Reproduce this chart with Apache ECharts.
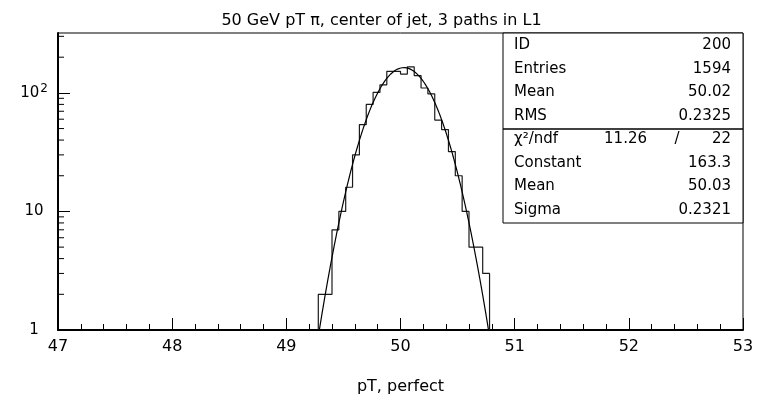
<!DOCTYPE html>
<html>
<head>
<meta charset="utf-8">
<script src="https://cdn.jsdelivr.net/npm/echarts@6/dist/echarts.min.js"></script>
<style>
  html, body { margin: 0; padding: 0; background: #fff; }
  #chart { width: 763px; height: 400px; }
</style>
</head>
<body>
<div id="chart"></div>
<script>
// Histogram bins (width 0.06 GeV), lower edges and counts
const binWidth = 0.06;
const binLowEdges = [49.28, 49.34, 49.40, 49.46, 49.52, 49.58, 49.64, 49.70, 49.76, 49.82,
                     49.88, 49.94, 50.00, 50.06, 50.12, 50.18, 50.24, 50.30, 50.36, 50.42,
                     50.48, 50.54, 50.60, 50.66, 50.72];
const binCounts = [2, 2, 7, 10, 16, 30, 54, 80, 101, 117,
                   152, 152, 144, 166, 140, 110, 98, 59, 49, 32,
                   20, 10, 5, 5, 3];

// Gaussian fit results
const fitConstant = 163.3;
const fitMean = 50.03;
const fitSigma = 0.2321;
const fitChi2 = 11.26;
const fitNdf = 22;
const fitRange = [49.28, 50.78];

// Histogram statistics
const histId = 200;
const histEntries = 1594;
const histMean = 50.02;
const histRms = 0.2325;

// Axis ticks
const xTicks = [47, 48, 49, 50, 51, 52, 53];
const yMinorTicks = [2, 3, 4, 5, 6, 7, 8, 9, 20, 30, 40, 50, 60, 70, 80, 90, 200, 300];

const FONT = 'DejaVu Sans';

// Step outline of the histogram
const stepPoints = [[binLowEdges[0], 1]];
binLowEdges.forEach((lo, i) => {
  stepPoints.push([lo, binCounts[i]]);
  stepPoints.push([+(lo + binWidth).toFixed(4), binCounts[i]]);
});
stepPoints.push([+(binLowEdges[binLowEdges.length - 1] + binWidth).toFixed(4), 1]);

// Fitted gaussian sampled across the fit range
const fitPoints = [];
for (let x = fitRange[0]; x <= fitRange[1] + 1e-9; x += 0.005) {
  const z = (x - fitMean) / fitSigma;
  fitPoints.push([x, fitConstant * Math.exp(-0.5 * z * z)]);
}

const chart = echarts.init(document.getElementById('chart'), null, { renderer: 'canvas' });

const statsLeft = 503, statsRight = 743, statsTop = 33;
const rowY = [45.5, 69, 92.5, 116, 139.5, 163, 186.5, 210];
const statRows = [
  ['ID', String(histId)],
  ['Entries', String(histEntries)],
  ['Mean', histMean.toFixed(2)],
  ['RMS', histRms.toFixed(4)],
  null,
  ['Constant', fitConstant.toFixed(1)],
  ['Mean', fitMean.toFixed(2)],
  ['Sigma', fitSigma.toFixed(4)]
];
const textStyle = { fontFamily: FONT, fontSize: 15, fill: '#000' };
const graphics = [
  { type: 'rect', shape: { x: statsLeft, y: statsTop, width: statsRight - statsLeft, height: 190 },
    style: { fill: '#fff', stroke: '#000', lineWidth: 1 }, z: 100 },
  { type: 'line', shape: { x1: statsLeft, y1: 129, x2: statsRight, y2: 129 },
    style: { stroke: '#000', lineWidth: 1.5 }, z: 101 }
];
statRows.forEach((row, i) => {
  if (!row) return;
  graphics.push({ type: 'text', x: 514, y: rowY[i], z: 102,
    style: Object.assign({ text: row[0], textAlign: 'left', textVerticalAlign: 'middle' }, textStyle) });
  graphics.push({ type: 'text', x: 731, y: rowY[i], z: 102,
    style: Object.assign({ text: row[1], textAlign: 'right', textVerticalAlign: 'middle' }, textStyle) });
});
graphics.push({ type: 'text', x: 514, y: rowY[4], z: 102,
  style: Object.assign({ text: 'χ²/ndf', textAlign: 'left', textVerticalAlign: 'middle' }, textStyle) });
graphics.push({ type: 'text', x: 647, y: rowY[4], z: 102,
  style: Object.assign({ text: fitChi2.toFixed(2), textAlign: 'right', textVerticalAlign: 'middle' }, textStyle) });
graphics.push({ type: 'text', x: 677, y: rowY[4], z: 102,
  style: Object.assign({ text: '/', textAlign: 'center', textVerticalAlign: 'middle' }, textStyle) });
graphics.push({ type: 'text', x: 731, y: rowY[4], z: 102,
  style: Object.assign({ text: String(fitNdf), textAlign: 'right', textVerticalAlign: 'middle' }, textStyle) });

chart.setOption({
  animation: false,
  backgroundColor: '#fff',
  title: {
    text: '50 GeV pT π, center of jet, 3 paths in L1',
    left: 'center',
    top: 8,
    textStyle: { fontFamily: FONT, fontSize: 16, fontWeight: 'normal', color: '#000' }
  },
  grid: {
    left: 58, right: 20, top: 33, bottom: 67,
    show: true, borderColor: '#000', borderWidth: 1, backgroundColor: 'transparent'
  },
  xAxis: {
    type: 'value',
    min: xTicks[0], max: xTicks[xTicks.length - 1], interval: 1,
    name: 'pT, perfect',
    nameLocation: 'middle',
    nameGap: 49,
    nameTextStyle: { fontFamily: FONT, fontSize: 16, color: '#000' },
    axisLine: { show: true, lineStyle: { color: '#000', width: 2 } },
    axisTick: { show: true, inside: true, length: 12, lineStyle: { color: '#000', width: 1 } },
    minorTick: { show: true, splitNumber: 5, length: 6, lineStyle: { color: '#000', width: 1 } },
    axisLabel: { fontFamily: FONT, fontSize: 16, color: '#000', margin: 9 },
    splitLine: { show: false },
    minorSplitLine: { show: false }
  },
  yAxis: {
    type: 'log',
    logBase: 10,
    min: 1, max: 320,
    axisLine: { show: true, lineStyle: { color: '#000', width: 2 } },
    axisTick: { show: true, inside: true, length: 12, lineStyle: { color: '#000', width: 1 } },
    axisLabel: {
      fontFamily: FONT, fontSize: 15, color: '#000', margin: 24, align: 'center',
      showMaxLabel: false,
      formatter: v => {
        const e = Math.round(Math.log10(v));
        if (Math.abs(v - Math.pow(10, e)) > 1e-6) return '';
        if (e === 0) return '1';
        if (e === 1) return '10';
        return '{b|10}{s|' + e + '}';
      },
      rich: {
        b: { fontFamily: FONT, fontSize: 15, color: '#000' },
        s: { fontFamily: FONT, fontSize: 12, color: '#000', verticalAlign: 'top', padding: [0, 0, 8, 1] }
      }
    },
    splitLine: { show: false }
  },
  series: [
    {
      name: 'histogram',
      type: 'line',
      data: stepPoints,
      showSymbol: false,
      symbol: 'none',
      clip: true,
      lineStyle: { color: '#1a1a1a', width: 1.2 },
      z: 3
    },
    {
      name: 'gaussian fit',
      type: 'line',
      data: fitPoints,
      showSymbol: false,
      symbol: 'none',
      smooth: false,
      clip: true,
      lineStyle: { color: '#000', width: 1.2 },
      z: 4
    },
    {
      name: 'y minor ticks',
      type: 'custom',
      data: yMinorTicks.map(v => [xTicks[0], v]),
      clip: false,
      silent: true,
      renderItem: (params, api) => {
        const p = api.coord([api.value(0), api.value(1)]);
        return {
          type: 'line',
          shape: { x1: p[0], y1: p[1], x2: p[0] + 6, y2: p[1] },
          style: { stroke: '#000', lineWidth: 1 }
        };
      },
      z: 5
    }
  ],
  graphic: graphics
});
</script>
</body>
</html>
